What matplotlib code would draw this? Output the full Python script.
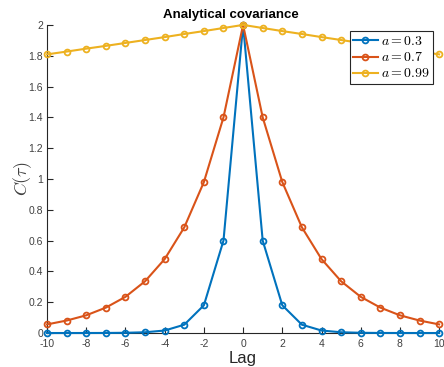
import matplotlib
matplotlib.use("Agg")
import matplotlib.pyplot as plt

plt.rcParams['mathtext.fontset'] = 'cm'
plt.rcParams['font.family'] = ['Liberation Sans', 'DejaVu Sans']
plt.rcParams['axes.unicode_minus'] = False

lags = [-10, -9, -8, -7, -6, -5, -4, -3, -2, -1, 0, 1, 2, 3, 4, 5, 6, 7, 8, 9, 10]

# one-sided covariance values for lags 0..10
half_03 = [2.0, 0.6, 0.18, 0.054, 0.0162, 0.0049, 0.0015, 0.0004, 0.0001, 0.0, 0.0]
half_07 = [2.0, 1.4, 0.98, 0.686, 0.480, 0.336, 0.235, 0.165, 0.115, 0.081, 0.056]
half_099 = [2.0, 1.98, 1.960, 1.941, 1.921, 1.902, 1.883, 1.864, 1.846, 1.827, 1.809]

cov_03 = half_03[:0:-1] + half_03
cov_07 = half_07[:0:-1] + half_07
cov_099 = half_099[:0:-1] + half_099

series = [
    (cov_03, r'$a=0.3$', '#0072BD'),
    (cov_07, r'$a=0.7$', '#D95319'),
    (cov_099, r'$a=0.99$', '#EDB120'),
]

fig = plt.figure(figsize=(4.44, 3.67), dpi=100)
ax = fig.add_axes([0.106, 0.0926, 0.883, 0.8395])

for vals, lab, col in series:
    ax.plot(lags, vals, '-o', color=col, lw=1.5, ms=4.2, mfc='none', mew=1.3,
            label=lab, clip_on=False, zorder=3)

ax.set_xlim(-10, 10)
ax.set_ylim(0, 2)
ax.set_xticks(range(-10, 11, 2))
ax.set_yticks([0, 0.2, 0.4, 0.6, 0.8, 1, 1.2, 1.4, 1.6, 1.8, 2])
ax.set_yticklabels(['0', '0.2', '0.4', '0.6', '0.8', '1', '1.2', '1.4', '1.6', '1.8', '2'])
ax.spines['top'].set_visible(False)
ax.spines['right'].set_visible(False)
for s in ('left', 'bottom'):
    ax.spines[s].set_color('#262626')
    ax.spines[s].set_linewidth(0.8)
ax.tick_params(direction='in', length=4, width=0.8, labelsize=7.5,
               colors='#262626', labelcolor='#404040')
ax.tick_params(axis='x', pad=4)
ax.tick_params(axis='y', pad=3)

ax.set_title('Analytical covariance', fontsize=9.5, fontweight='bold', pad=5, x=0.47)
ax.set_xlabel('Lag', fontsize=12, color='#262626', labelpad=2)
ax.set_ylabel(r'$C(\tau)$', fontsize=13, color='#404040', labelpad=-4)

leg = ax.legend(loc='upper right', bbox_to_anchor=(0.976, 0.916),
                bbox_transform=fig.transFigure, fontsize=10, fancybox=False,
                framealpha=1, edgecolor='#262626', handlelength=1.8,
                handletextpad=0.2, borderpad=0.25, labelspacing=0.15,
                borderaxespad=0)
leg.get_frame().set_linewidth(0.8)

fig.savefig('out.png', dpi=100)
